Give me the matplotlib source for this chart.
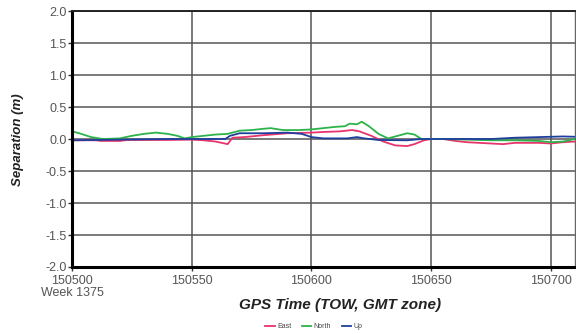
import matplotlib
matplotlib.use("Agg")
import matplotlib.pyplot as plt
import matplotlib.ticker as mticker

plt.rcParams["font.family"] = ["Liberation Sans", "DejaVu Sans"]

# ── data ──
east_t = [150500, 150510, 150512, 150520, 150523, 150540, 150550, 150555, 150560,
          150565, 150567, 150572, 150580, 150590, 150600, 150605, 150612, 150617,
          150620, 150625, 150630, 150635, 150640, 150643, 150647, 150650, 150655,
          150660, 150665, 150675, 150680, 150685, 150695, 150700, 150705, 150710]
east_v = [-0.02, -0.02, -0.03, -0.03, -0.015, -0.015, -0.01, -0.02, -0.04,
          -0.08, 0.02, 0.03, 0.06, 0.09, 0.10, 0.11, 0.12, 0.14,
          0.12, 0.05, -0.04, -0.10, -0.11, -0.08, -0.02, 0.0, 0.0,
          -0.03, -0.05, -0.07, -0.08, -0.06, -0.06, -0.07, -0.05, -0.04]

north_t = [150500, 150503, 150508, 150513, 150520, 150525, 150530, 150535, 150540,
           150544, 150547, 150550, 150555, 150560, 150565, 150570, 150575, 150580,
           150583, 150588, 150595, 150600, 150605, 150610, 150614, 150616, 150619,
           150621, 150624, 150628, 150632, 150636, 150640, 150643, 150646, 150655,
           150665, 150675, 150685, 150695, 150700, 150705, 150710]
north_v = [0.12, 0.09, 0.03, 0.0, 0.01, 0.05, 0.08, 0.10, 0.08,
           0.05, 0.01, 0.03, 0.05, 0.07, 0.08, 0.13, 0.14, 0.16,
           0.17, 0.14, 0.14, 0.15, 0.17, 0.19, 0.20, 0.24, 0.23,
           0.27, 0.20, 0.08, 0.01, 0.05, 0.09, 0.07, 0.0, 0.0,
           -0.01, -0.02, -0.02, -0.03, -0.05, -0.04, 0.0]

up_t = [150500, 150520, 150540, 150550, 150564, 150566, 150570, 150580, 150590,
        150596, 150600, 150605, 150615, 150619, 150622, 150628, 150640, 150646,
        150660, 150675, 150685, 150695, 150705, 150710]
up_v = [-0.02, -0.01, 0.0, 0.0, 0.0, 0.05, 0.09, 0.09, 0.10,
        0.08, 0.03, 0.01, 0.01, 0.03, 0.01, -0.015, -0.02, 0.0,
        0.0, 0.0, 0.02, 0.03, 0.04, 0.035]

x_ticks = [150500, 150550, 150600, 150650, 150700]
x_labels = ["150500\nWeek 1375", "150550", "150600", "150650", "150700"]
y_ticks = [-2.0, -1.5, -1.0, -0.5, 0.0, 0.5, 1.0, 1.5, 2.0]

fig = plt.figure(figsize=(5.76, 3.34), dpi=100)
ax = fig.add_axes([0.125, 0.2006, 0.873, 0.7664])

ax.plot(east_t, east_v, color="#E8336B", lw=1.3, label="East")
ax.plot(north_t, north_v, color="#2DB34A", lw=1.3, label="North")
ax.plot(up_t, up_v, color="#1F3F9F", lw=1.3, label="Up")

ax.set_xlim(150500, 150710)
ax.set_ylim(-2.0, 2.0)
ax.set_xticks(x_ticks)
ax.set_xticklabels(x_labels, linespacing=1.0)
ax.set_yticks(y_ticks)
ax.yaxis.set_major_formatter(mticker.FuncFormatter(lambda v, _: f"{v:.1f}"))

ax.grid(True, color="#555555", lw=1.1)
ax.set_axisbelow(True)
for side in ("left", "bottom"):
    ax.spines[side].set_linewidth(2.2)
    ax.spines[side].set_color("black")
ax.spines["top"].set_linewidth(1.4)
ax.spines["top"].set_color("#222222")
ax.spines["right"].set_linewidth(1.0)
ax.spines["right"].set_color("#666666")

ax.tick_params(axis="both", labelsize=9, labelcolor="#555555", color="#333333",
               length=3, width=1)
ax.tick_params(axis="y", pad=1)
ax.tick_params(axis="x", pad=3)
for lbl in ax.get_xticklabels():
    lbl.set_verticalalignment("top")
    lbl.set_multialignment("center")

fig.text(0.59, 0.087, "GPS Time (TOW, GMT zone)", ha="center", va="center",
         fontsize=11, fontweight="bold", fontstyle="italic", color="#222222")
fig.text(0.032, 0.583, "Separation (m)", ha="center", va="center", rotation=90,
         fontsize=9.5, fontweight="bold", fontstyle="italic", color="#222222")

fig.legend(loc="center", bbox_to_anchor=(0.545, 0.021), ncol=3, frameon=False,
           fontsize=5, handlelength=1.3, handletextpad=0.4, columnspacing=1.5,
           labelcolor="#444444")

fig.savefig("out.png", dpi=100)
